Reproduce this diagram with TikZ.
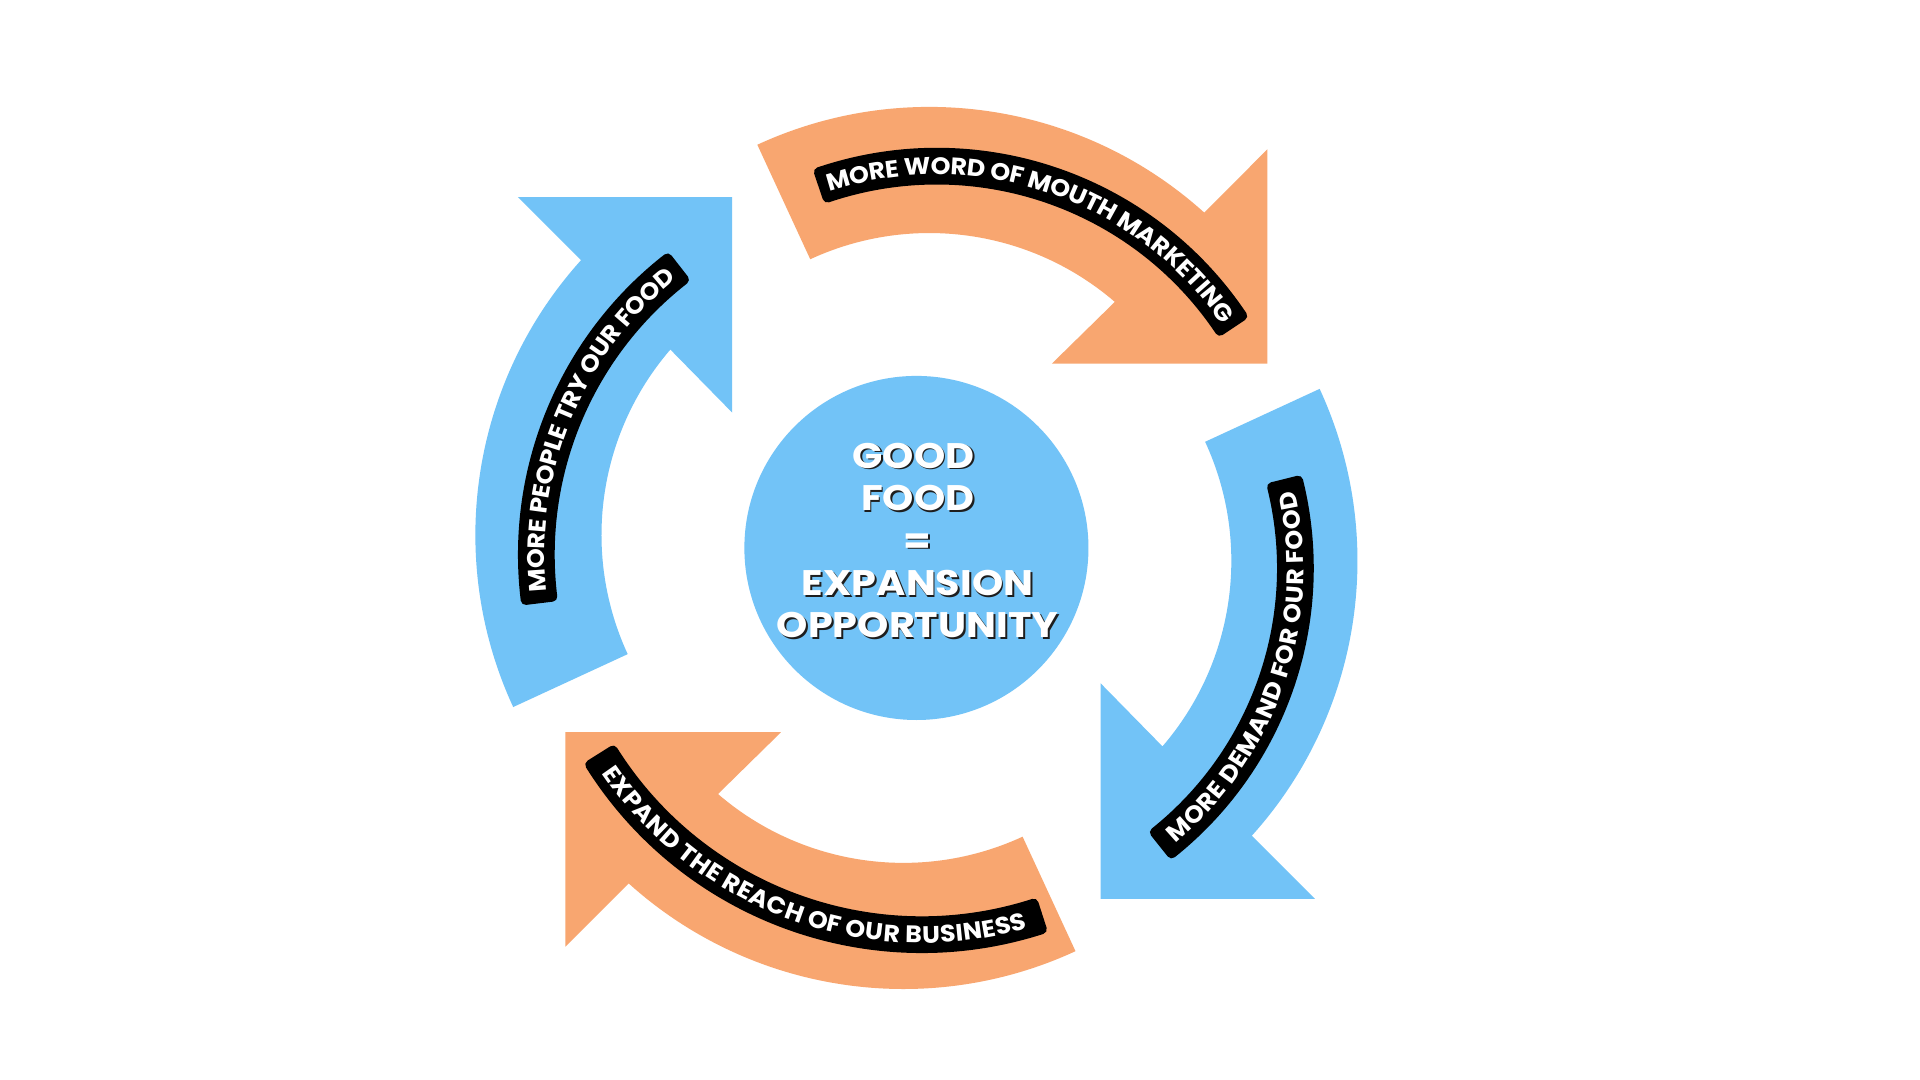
\documentclass[tikz,border=0pt]{standalone}
\usepackage{fontspec}
\setmainfont{Poppins}
\newfontfamily\bandfont[FakeStretch=1.06]{Poppins}
\newfontfamily\hubfont[FakeStretch=1.12]{Poppins}
\usetikzlibrary{decorations.text}
\definecolor{arroworange}{HTML}{F8A670}
\definecolor{arrowblue}{HTML}{72C3F7}
\definecolor{shadowgray}{HTML}{1E1E1E}
\newcommand\cyclearrowpath{(114.8:335) arc[start angle=114.8,end angle=47.94,radius=335] -- (276,300.3) -- (276,125.3) -- (100,125.3) -- (49.25:232) arc[start angle=49.25,end angle=114.8,radius=232] -- cycle}
\newcommand\bandtextfont{\bandfont\bfseries\fontsize{19.5}{19.5}\selectfont}
% #1 start angle, #2 end angle, #3 radius, #4 text
\newcommand\labelband[4]{%
  \pgfmathsetmacro\bsd{sign(#2-#1)*4/(#3)*180/pi}%
  \pgfmathsetmacro\bsa{#1+\bsd}%
  \pgfmathsetmacro\bsb{#2-\bsd}%
  \pgfmathsetmacro\bro{#3+11}%
  \pgfmathsetmacro\bri{#3-11}%
  \filldraw[bandstyle] (\bsa:\bro) arc[start angle=\bsa, end angle=\bsb, radius=\bro] -- (\bsb:\bri) arc[start angle=\bsb, end angle=\bsa, radius=\bri] -- cycle;
  \path[decorate, decoration={text along path, text={|\bandtextfont|#4}, text align=center, text color=white, raise=-6.8pt}] (#1:#3) arc[start angle=#1, end angle=#2, radius=#3];
}
\tikzset{
  bandstyle/.style={fill=black, draw=black, line width=8pt, line join=round},
  centertext/.style={font=\hubfont\bfseries\fontsize{29}{34.7}\selectfont, align=center, inner sep=0pt}
}
\begin{document}
\begin{tikzpicture}[x=1pt,y=1pt]
\useasboundingbox[fill=white] (0,-882) rectangle (1568,0);
\coordinate (M) at (748.4,-447.5);
% arrows
\begin{scope}[shift={(M)}, rotate=0]
  \fill[arroworange, shift={(10.6,25.2)}] \cyclearrowpath;
\end{scope}
\begin{scope}[shift={(M)}, rotate=-90]
  \fill[arrowblue, shift={(10.6,25.2)}] \cyclearrowpath;
\end{scope}
\begin{scope}[shift={(M)}, rotate=180]
  \fill[arroworange, shift={(10.6,25.2)}] \cyclearrowpath;
\end{scope}
\begin{scope}[shift={(M)}, rotate=90]
  \fill[arrowblue, shift={(10.6,25.2)}] \cyclearrowpath;
\end{scope}
% bands
\begin{scope}[shift={(765,-425)}]
  \labelband{109.5}{33.0}{289.3}{MORE WORD OF MOUTH MARKETING}
\end{scope}
\begin{scope}[shift={(770.9,-464.1)}]
  \labelband{-52.2}{14.7}{287}{MORE DEMAND FOR OUR FOOD}
\end{scope}
\begin{scope}[shift={(752.8,-454.4)}]
  \labelband{211.4}{288.6}{308.9}{EXPAND THE REACH OF OUR BUSINESS}
\end{scope}
\begin{scope}[shift={(734,-453)}]
  \labelband{187.7}{127.2}{296}{MORE PEOPLE TRY OUR FOOD}
\end{scope}
% centre
\node[circle, fill=arrowblue, minimum size=281pt, inner sep=0pt] (hub) at (M) {};
\node[centertext, text=shadowgray] (hubshadow) at (750.9,-442.9) {GOOD\hspace*{7pt}\\FOOD\\=\\EXPANSION\\OPPORTUNITY};
\node[centertext, text=white] (hubtext) at (749.4,-441.4) {GOOD\hspace*{7pt}\\FOOD\\=\\EXPANSION\\OPPORTUNITY};
\end{tikzpicture}
\end{document}
